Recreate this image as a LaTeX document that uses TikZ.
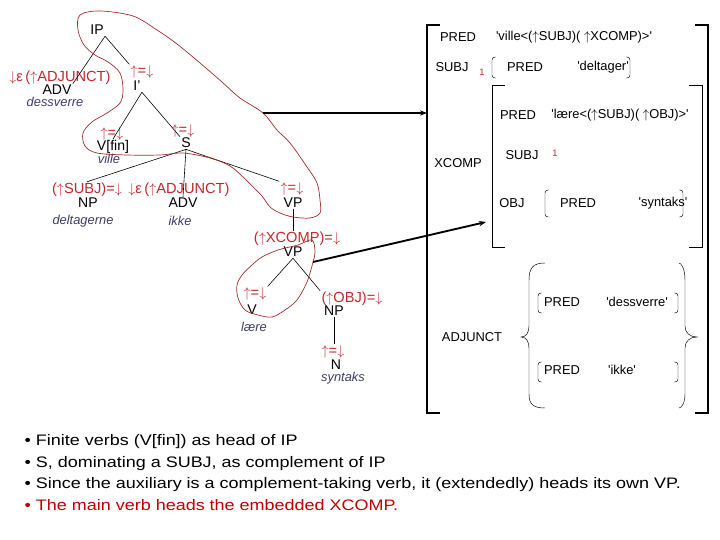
\documentclass[tikz,border=0pt]{standalone}
\usepackage{fontspec}
\setmainfont{Liberation Sans}
\usetikzlibrary{arrows.meta}
\definecolor{annred}{HTML}{C0282D}
\definecolor{handred}{HTML}{A0302E}
\definecolor{wordblue}{HTML}{3C3C66}
\definecolor{notered}{HTML}{C00000}
\newcommand{\sq}{\textquotesingle}
\newcommand{\up}{\ensuremath{\uparrow}}
\newcommand{\dn}{\ensuremath{\downarrow}}

\begin{document}
\begin{tikzpicture}[
    x=0.03cm, y=-0.03cm,
    >={Stealth[length=6pt, width=4.5pt]},
    every node/.style={inner sep=1pt},
    cat/.style={font=\fontsize{12}{13}\selectfont},
    ann/.style={text=annred, font=\fontsize{12.5}{14}\selectfont},
    word/.style={text=wordblue, font=\fontsize{11}{13}\selectfont\itshape},
    fs/.style={font=\fontsize{11}{13}\selectfont},
    idx/.style={text=annred, font=\fontsize{8}{9}\selectfont},
    branch/.style={black, line width=0.5pt},
    hand/.style={handred, line width=0.6pt},
    link/.style={->, line width=1.6pt},
    notes/.style={anchor=base west, xscale=1.18, font=\fontsize{13}{15}\selectfont},
  ]
  \useasboundingbox (0,0) rectangle (720,540);

  % ══════════════════════════════════════════════════════
  % C-structure tree
  % ══════════════════════════════════════════════════════
  \node[cat] (IP) at (97,30) {IP};

  \node[ann]  (advAnnA) at (60,78) {\dn ε\,(\up ADJUNCT)};
  \node[cat]  (advA)    at (57,90) {ADV};
  \node[word] (dessverre) at (55,102) {dessverre};

  \node[ann] (ibarAnn) at (142,72) {\up=\dn};
  \node[cat] (Ibar)    at (137,86) {I'};

  \node[ann]  (vfinAnn) at (112,134) {\up=\dn};
  \node[cat]  (Vfin)    at (113,147) {V[fin]};
  \node[word] (ville)   at (109,159) {ville};

  \node[ann] (sAnn) at (183,131) {\up=\dn};
  \node[cat] (S)    at (186,143) {S};

  \node[ann]  (subjAnn)    at (87,190) {(\up SUBJ)=\dn};
  \node[cat]  (NPa)        at (88,203) {NP};
  \node[word] (deltagerne) at (83,221) {deltagerne};

  \node[ann]  (advAnnB) at (179,190) {\dn ε\,(\up ADJUNCT)};
  \node[cat]  (advB)    at (183,203) {ADV};
  \node[word] (ikke)    at (180,221) {ikke};

  \node[ann] (vpAnnA) at (292,189) {\up=\dn};
  \node[cat] (VPa)    at (293,203) {VP};

  \node[ann] (xcompAnn) at (297,239) {(\up XCOMP)=\dn};
  \node[cat] (VPb)      at (293,252) {VP};

  \node[ann]  (vAnn) at (255,294) {\up=\dn};
  \node[cat]  (V)    at (252,310) {V};
  \node[word] (laere) at (254,327) {lære};

  \node[ann] (objAnn) at (352,299) {(\up OBJ)=\dn};
  \node[cat] (NPb)    at (334,311) {NP};

  \node[ann]  (nAnn)    at (333,352) {\up=\dn};
  \node[cat]  (N)       at (336,365) {N};
  \node[word] (syntaks) at (343,378) {syntaks};

  % branches
  \draw[branch] (IP.south east) -- (advA.north east);
  \draw[branch] (IP.south east) -- (ibarAnn.north west);
  \draw[branch] (Ibar.south east) -- (Vfin.north);
  \draw[branch] (Ibar.south east) -- (S.north west);
  \draw[branch] (S.south) -- (subjAnn.north);
  \draw[branch] (S.south) -- (advB.north);
  \draw[branch] (S.south) -- (vpAnnA.north west);
  \draw[branch] (VPa.south) -- (xcompAnn.north -| VPa);
  \draw[branch] (VPb.south) -- (vAnn.north east);
  \draw[branch] (VPb.south) -- (objAnn.north west);
  \draw[branch] (NPb.south) -- (nAnn.north -| NPb);

  % ══════════════════════════════════════════════════════
  % Hand-drawn outlines of the projections
  % ══════════════════════════════════════════════════════
  \draw[hand] plot[smooth cycle, tension=0.55] coordinates {
    (80,15) (100,11) (133,16) (157,30) (177,44) (200,63) (222,82)
    (240,98) (263,113) (277,130) (290,143) (307,167) (317,183) (320,200)
    (320,213) (310,218) (293,217) (280,213) (270,207) (262,196) (253,187)
    (243,177) (230,166) (210,158) (183,153) (160,155) (127,155) (97,153)
    (85,146) (83,133) (92,122) (107,113) (120,103) (123,90) (120,73)
    (108,62) (95,55) (84,45) (78,30)};
  \draw[hand] plot[smooth cycle, tension=0.55] coordinates {
    (312,240) (315,252) (313,262) (307,282) (297,300) (285,310) (272,317)
    (258,315) (245,310) (238,298) (237,285) (242,275) (252,265) (262,257)
    (278,250) (298,245)};

  % ══════════════════════════════════════════════════════
  % F-structure
  % ══════════════════════════════════════════════════════
  % square brackets
  \foreach \xl/\xr/\yt/\yb/\w in {427/708/25/413/0.9pt, 492/702/85/247/0.6pt}{
    \draw[line width=\w] (\xl+13,\yt) -- (\xl,\yt) -- (\xl,\yb) -- (\xl+13,\yb);
    \draw[line width=\w] (\xr-13,\yt) -- (\xr,\yt) -- (\xr,\yb) -- (\xr-13,\yb);
  }
  % small rounded brackets
  \foreach \xl/\xr/\yt/\yb in {492/630/57/78, 545/683/190/217, 538/678/293/313, 538/678/362/382}{
    \draw[rounded corners=2.5pt] (\xl+4,\yt) -- (\xl,\yt) -- (\xl,\yb) -- (\xl+4,\yb);
    \draw[rounded corners=2.5pt] (\xr-4,\yt) -- (\xr,\yt) -- (\xr,\yb) -- (\xr-4,\yb);
  }
  % set braces
  \draw (545,263) .. controls (533,263) and (529,268) .. (529,280) -- (529,326)
    .. controls (529,333) and (526,337) .. (521,337)
    .. controls (526,337) and (529,341) .. (529,348) -- (529,394)
    .. controls (529,404) and (533,408) .. (545,408);
  \draw (679,263) .. controls (681,263) and (685,268) .. (685,280) -- (685,326)
    .. controls (685,333) and (690,337) .. (697,337)
    .. controls (690,337) and (685,341) .. (685,348) -- (685,394)
    .. controls (685,404) and (681,408) .. (679,408);

  \node[fs]  (predF)  at (458,37) {PRED};
  \node[fs]  (villeF) at (574,37) {\sq ville<(\up SUBJ)( \up XCOMP)>\sq};
  \node[fs]  (subjF)  at (452,67) {SUBJ};
  \node[idx] (idxA)   at (482,72) {1};
  \node[fs]  (predS)  at (525,67) {PRED};
  \node[fs]  (deltagerF) at (603,67) {\sq deltager\sq};

  \node[fs]  (xcompF) at (458,163) {XCOMP};
  \node[fs]  (predX)  at (518,115) {PRED};
  \node[fs]  (laereF) at (620,115) {\sq lære<(\up SUBJ)( \up OBJ)>\sq};
  \node[fs]  (subjX)  at (522,155) {SUBJ};
  \node[idx] (idxB)   at (555,153) {1};
  \node[fs]  (objX)   at (512,203) {OBJ};
  \node[fs]  (predO)  at (578,203) {PRED};
  \node[fs]  (syntaksF) at (663,203) {\sq syntaks\sq};

  \node[fs] (adjF)       at (472,337) {ADJUNCT};
  \node[fs] (predA)      at (562,302) {PRED};
  \node[fs] (dessverreF) at (637,302) {\sq dessverre\sq};
  \node[fs] (predB)      at (562,370) {PRED};
  \node[fs] (ikkeF)      at (622,370) {\sq ikke\sq};

  % ══════════════════════════════════════════════════════
  % Projection arrows
  % ══════════════════════════════════════════════════════
  \coordinate (fromIP) at (263,113);
  \coordinate (toOuter) at (427,113);
  \coordinate (fromVP) at (313,262);
  \coordinate (toXcomp) at (486,222);
  \draw[link] (fromIP) -- (toOuter);
  \draw[link] (fromVP) -- (toXcomp);

  % ══════════════════════════════════════════════════════
  % Notes
  % ══════════════════════════════════════════════════════
  \node[notes] (noteA) at (23,445) {• Finite verbs (V[fin]) as head of IP};
  \node[notes] (noteB) at (23,467) {• S, dominating a SUBJ, as complement of IP};
  \node[notes] (noteC) at (23,488) {• Since the auxiliary is a complement-taking verb, it (extendedly) heads its own VP.};
  \node[notes, text=notered] (noteD) at (23,510) {• The main verb heads the embedded XCOMP.};

\end{tikzpicture}
\end{document}
